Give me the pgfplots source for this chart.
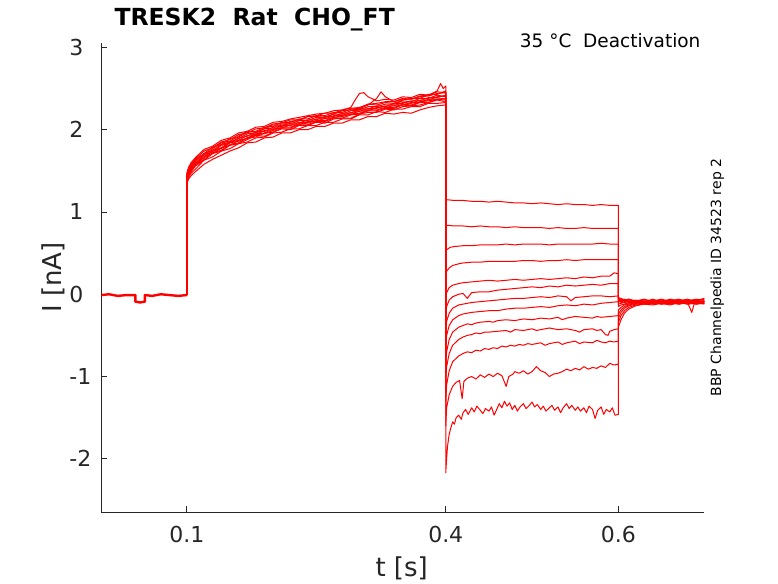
\documentclass[border=0pt]{standalone}
\usepackage{fontspec}
\setmainfont{DejaVu Sans}
\usepackage{pgfplots}
\pgfplotsset{compat=1.18}
\definecolor{axgray}{rgb}{0.15,0.15,0.15}
\pgfplotsset{trace/.style={color=red, line width=1.0pt, mark=none, line join=round}}
\begin{document}
\begin{tikzpicture}
\useasboundingbox (0,0) rectangle (778pt,583pt);
\begin{axis}[
  at={(101.3pt,70.7pt)}, anchor=south west,
  scale only axis, width=603pt, height=469pt,
  xmin=0.001, xmax=0.6995, ymin=-2.65, ymax=3.05,
  axis x line=bottom, axis y line=left,
  axis line style={-, axgray, line width=0.7pt},
  tick align=inside, major tick length=6pt,
  tick style={axgray, line width=0.7pt},
  xtick={0.1,0.4,0.6}, xticklabels={0.1,0.4,0.6},
  ytick={-2,-1,0,1,2,3}, yticklabels={-2,-1,0,1,2,3},
  ticklabel style={font=\fontsize{22}{26}\selectfont, text=axgray, inner sep=0pt},
  xticklabel style={anchor=base, yshift=-30.4pt},
  yticklabel style={anchor=west, xshift=-32pt},
]
% baseline (holding)
\addplot[trace, line width=2.4pt] coordinates {(0.001,-0.01) (0.01,0.0) (0.02,-0.02) (0.03,-0.01) (0.0405,-0.01) (0.0405,-0.09) (0.046,-0.10) (0.0515,-0.09) (0.0515,-0.01) (0.06,-0.02) (0.07,0.0) (0.08,-0.01) (0.09,-0.02) (0.1,-0.01)};
% sweep 1
\addplot[trace] coordinates {(0.1,-0.01) (0.1,1.43) (0.102,1.50) (0.105,1.56) (0.11,1.63) (0.12,1.69) (0.13,1.77) (0.14,1.84) (0.15,1.86) (0.16,1.92) (0.17,1.98) (0.18,1.97) (0.19,2.01) (0.20,2.06) (0.21,2.05) (0.22,2.10) (0.23,2.11) (0.24,2.16) (0.25,2.16) (0.26,2.15) (0.27,2.19) (0.28,2.23) (0.29,2.24) (0.30,2.25) (0.31,2.31) (0.32,2.30) (0.33,2.33) (0.34,2.32) (0.35,2.36) (0.36,2.38) (0.37,2.38) (0.38,2.43) (0.39,2.43) (0.4,2.47)
 (0.4,1.15) (0.41,1.14) (0.42,1.14) (0.43,1.13) (0.44,1.13) (0.45,1.12) (0.46,1.13) (0.47,1.12) (0.48,1.11) (0.49,1.11) (0.50,1.10) (0.51,1.11) (0.52,1.10) (0.53,1.09) (0.54,1.10) (0.55,1.09) (0.56,1.09) (0.57,1.08) (0.58,1.09) (0.59,1.08) (0.6,1.08)
 (0.6,-0.05) (0.603,-0.06) (0.607,-0.08) (0.612,-0.07) (0.62,-0.09) (0.63,-0.07) (0.64,-0.08) (0.65,-0.06) (0.66,-0.09) (0.67,-0.07) (0.68,-0.08) (0.69,-0.06) (0.6995,-0.07)};
% sweep 2
\addplot[trace] coordinates {(0.1,-0.01) (0.1,1.38) (0.102,1.45) (0.105,1.51) (0.11,1.56) (0.12,1.67) (0.13,1.71) (0.14,1.78) (0.15,1.81) (0.16,1.87) (0.17,1.89) (0.18,1.94) (0.19,1.95) (0.20,1.99) (0.21,2.03) (0.22,2.03) (0.23,2.07) (0.24,2.08) (0.25,2.11) (0.26,2.11) (0.27,2.15) (0.28,2.16) (0.29,2.19) (0.30,2.20) (0.31,2.24) (0.32,2.24) (0.33,2.27) (0.34,2.27) (0.35,2.31) (0.36,2.30) (0.37,2.34) (0.38,2.35) (0.39,2.37) (0.4,2.36)
 (0.4,0.84) (0.41,0.83) (0.42,0.83) (0.43,0.82) (0.44,0.83) (0.45,0.82) (0.46,0.82) (0.47,0.81) (0.48,0.82) (0.49,0.81) (0.50,0.81) (0.51,0.81) (0.52,0.80) (0.53,0.81) (0.54,0.80) (0.55,0.80) (0.56,0.81) (0.57,0.80) (0.58,0.80) (0.59,0.80) (0.6,0.80)
 (0.6,-0.06) (0.603,-0.07) (0.607,-0.06) (0.612,-0.09) (0.62,-0.07) (0.63,-0.10) (0.64,-0.07) (0.65,-0.09) (0.66,-0.06) (0.67,-0.08) (0.68,-0.06) (0.69,-0.09) (0.6995,-0.08)};
% sweep 3
\addplot[trace] coordinates {(0.1,-0.01) (0.1,1.46) (0.102,1.53) (0.105,1.58) (0.11,1.65) (0.12,1.74) (0.13,1.78) (0.14,1.85) (0.15,1.88) (0.16,1.94) (0.17,1.96) (0.18,2.01) (0.19,2.02) (0.20,2.07) (0.21,2.08) (0.22,2.12) (0.23,2.12) (0.24,2.16) (0.25,2.17) (0.26,2.20) (0.27,2.20) (0.28,2.24) (0.29,2.26) (0.30,2.27) (0.31,2.31) (0.32,2.32) (0.33,2.34) (0.34,2.34) (0.35,2.38) (0.36,2.37) (0.37,2.41) (0.38,2.42) (0.39,2.47) (0.394,2.56) (0.397,2.50) (0.4,2.53)
 (0.4,0.50) (0.401,0.54) (0.405,0.57) (0.41,0.58) (0.42,0.59) (0.43,0.59) (0.44,0.60) (0.45,0.60) (0.46,0.60) (0.47,0.61) (0.48,0.60) (0.49,0.61) (0.50,0.61) (0.51,0.61) (0.52,0.60) (0.53,0.61) (0.54,0.61) (0.55,0.61) (0.56,0.61) (0.57,0.61) (0.58,0.62) (0.59,0.61) (0.6,0.61)
 (0.6,-0.04) (0.603,-0.05) (0.607,-0.07) (0.612,-0.06) (0.62,-0.08) (0.63,-0.06) (0.64,-0.09) (0.65,-0.07) (0.66,-0.08) (0.67,-0.06) (0.68,-0.09) (0.69,-0.07) (0.6995,-0.06)};
% sweep 4
\addplot[trace] coordinates {(0.1,-0.01) (0.1,1.35) (0.102,1.42) (0.105,1.47) (0.11,1.52) (0.12,1.63) (0.13,1.67) (0.14,1.74) (0.15,1.77) (0.16,1.83) (0.17,1.85) (0.18,1.90) (0.19,1.91) (0.20,1.96) (0.21,1.97) (0.22,2.01) (0.23,2.01) (0.24,2.05) (0.25,2.05) (0.26,2.09) (0.27,2.09) (0.28,2.13) (0.29,2.13) (0.30,2.18) (0.31,2.18) (0.32,2.22) (0.33,2.21) (0.34,2.25) (0.35,2.25) (0.36,2.28) (0.37,2.28) (0.38,2.32) (0.39,2.32) (0.4,2.33)
 (0.4,0.22) (0.401,0.28) (0.404,0.32) (0.408,0.35) (0.415,0.37) (0.42,0.38) (0.43,0.39) (0.44,0.39) (0.45,0.40) (0.46,0.40) (0.47,0.40) (0.48,0.40) (0.49,0.41) (0.50,0.41) (0.51,0.40) (0.52,0.41) (0.53,0.41) (0.54,0.42) (0.55,0.41) (0.56,0.42) (0.57,0.42) (0.58,0.42) (0.59,0.42) (0.6,0.42)
 (0.6,-0.07) (0.603,-0.08) (0.607,-0.07) (0.612,-0.10) (0.62,-0.08) (0.63,-0.09) (0.64,-0.06) (0.65,-0.10) (0.66,-0.08) (0.67,-0.09) (0.68,-0.07) (0.69,-0.08) (0.6995,-0.05)};
% sweep 5
\addplot[trace] coordinates {(0.1,-0.01) (0.1,1.41) (0.102,1.48) (0.105,1.53) (0.11,1.60) (0.12,1.67) (0.13,1.75) (0.14,1.78) (0.15,1.85) (0.16,1.87) (0.17,1.93) (0.18,1.94) (0.19,1.99) (0.20,2.00) (0.21,2.05) (0.22,2.05) (0.23,2.09) (0.24,2.09) (0.25,2.13) (0.26,2.13) (0.27,2.17) (0.28,2.17) (0.29,2.21) (0.30,2.22) (0.31,2.26) (0.32,2.26) (0.33,2.29) (0.34,2.29) (0.35,2.33) (0.36,2.32) (0.37,2.36) (0.38,2.36) (0.39,2.40) (0.4,2.41)
 (0.4,-0.05) (0.401,0.02) (0.404,0.08) (0.408,0.11) (0.415,0.13) (0.42,0.14) (0.43,0.15) (0.44,0.16) (0.45,0.17) (0.46,0.16) (0.47,0.17) (0.48,0.18) (0.49,0.17) (0.50,0.18) (0.51,0.19) (0.52,0.18) (0.53,0.19) (0.54,0.20) (0.55,0.19) (0.56,0.21) (0.57,0.20) (0.58,0.22) (0.59,0.22) (0.595,0.26) (0.6,0.25)
 (0.6,-0.05) (0.603,-0.09) (0.607,-0.08) (0.612,-0.06) (0.62,-0.09) (0.63,-0.08) (0.64,-0.10) (0.65,-0.08) (0.66,-0.07) (0.67,-0.10) (0.68,-0.08) (0.69,-0.10) (0.6995,-0.09)};
% sweep 6
\addplot[trace] coordinates {(0.1,-0.01) (0.1,1.47) (0.102,1.54) (0.105,1.60) (0.11,1.66) (0.12,1.76) (0.13,1.80) (0.14,1.87) (0.15,1.90) (0.16,1.96) (0.17,1.98) (0.18,2.03) (0.19,2.04) (0.20,2.09) (0.21,2.10) (0.22,2.13) (0.23,2.15) (0.24,2.17) (0.25,2.19) (0.26,2.20) (0.27,2.23) (0.28,2.24) (0.29,2.27) (0.295,2.36) (0.30,2.44) (0.305,2.45) (0.31,2.40) (0.32,2.35) (0.33,2.37) (0.34,2.36) (0.35,2.40) (0.36,2.39) (0.37,2.43) (0.38,2.42) (0.39,2.46) (0.4,2.45)
 (0.4,-0.25) (0.401,-0.15) (0.404,-0.07) (0.408,-0.03) (0.415,0.0) (0.42,0.01) (0.425,-0.05) (0.43,0.02) (0.44,0.03) (0.45,0.03) (0.46,0.05) (0.47,0.06) (0.48,0.07) (0.49,0.08) (0.50,0.09) (0.51,0.08) (0.52,0.10) (0.53,0.09) (0.54,0.11) (0.55,0.10) (0.56,0.11) (0.57,0.12) (0.58,0.11) (0.59,0.13) (0.6,0.13)
 (0.6,-0.08) (0.603,-0.10) (0.607,-0.09) (0.612,-0.08) (0.62,-0.10) (0.63,-0.09) (0.64,-0.11) (0.65,-0.08) (0.66,-0.10) (0.67,-0.08) (0.68,-0.11) (0.69,-0.09) (0.6995,-0.08)};
% sweep 7
\addplot[trace] coordinates {(0.1,-0.01) (0.1,1.37) (0.102,1.44) (0.105,1.49) (0.11,1.56) (0.12,1.63) (0.13,1.71) (0.14,1.74) (0.15,1.81) (0.16,1.83) (0.17,1.88) (0.18,1.93) (0.19,1.92) (0.20,1.97) (0.21,2.01) (0.22,2.00) (0.23,2.05) (0.24,2.05) (0.25,2.09) (0.26,2.08) (0.27,2.13) (0.28,2.14) (0.29,2.14) (0.30,2.19) (0.31,2.21) (0.32,2.21) (0.33,2.25) (0.34,2.24) (0.35,2.28) (0.36,2.29) (0.37,2.30) (0.38,2.33) (0.39,2.36) (0.4,2.34)
 (0.4,-0.45) (0.401,-0.33) (0.404,-0.23) (0.408,-0.17) (0.415,-0.13) (0.42,-0.12) (0.43,-0.10) (0.44,-0.09) (0.45,-0.08) (0.46,-0.07) (0.47,-0.06) (0.48,-0.05) (0.49,-0.05) (0.50,-0.04) (0.51,-0.03) (0.52,-0.04) (0.53,-0.02) (0.54,-0.03) (0.545,-0.08) (0.55,-0.04) (0.56,-0.03) (0.57,-0.02) (0.58,-0.02) (0.59,-0.03) (0.6,-0.02)
 (0.6,-0.12) (0.603,-0.11) (0.607,-0.10) (0.612,-0.11) (0.62,-0.09) (0.63,-0.11) (0.64,-0.09) (0.65,-0.11) (0.66,-0.09) (0.67,-0.11) (0.68,-0.09) (0.69,-0.07) (0.6995,-0.09)};
% sweep 8
\addplot[trace] coordinates {(0.1,-0.01) (0.1,1.42) (0.102,1.49) (0.105,1.55) (0.11,1.61) (0.12,1.71) (0.13,1.75) (0.14,1.82) (0.15,1.85) (0.16,1.89) (0.17,1.95) (0.18,1.96) (0.19,2.01) (0.20,2.02) (0.21,2.07) (0.22,2.07) (0.23,2.11) (0.24,2.11) (0.25,2.15) (0.26,2.15) (0.27,2.19) (0.28,2.19) (0.29,2.23) (0.30,2.24) (0.31,2.28) (0.32,2.28) (0.33,2.31) (0.34,2.31) (0.35,2.35) (0.36,2.34) (0.37,2.38) (0.38,2.38) (0.39,2.42) (0.4,2.40)
 (0.4,-0.65) (0.401,-0.50) (0.404,-0.38) (0.408,-0.31) (0.415,-0.26) (0.42,-0.24) (0.43,-0.22) (0.44,-0.21) (0.45,-0.20) (0.46,-0.20) (0.47,-0.18) (0.48,-0.17) (0.49,-0.17) (0.50,-0.16) (0.51,-0.15) (0.52,-0.16) (0.53,-0.14) (0.54,-0.13) (0.55,-0.14) (0.56,-0.12) (0.57,-0.13) (0.58,-0.11) (0.59,-0.10) (0.6,-0.09)
 (0.6,-0.15) (0.603,-0.13) (0.607,-0.12) (0.612,-0.10) (0.62,-0.11) (0.63,-0.09) (0.64,-0.10) (0.65,-0.12) (0.66,-0.10) (0.67,-0.12) (0.68,-0.10) (0.685,-0.22) (0.688,-0.11) (0.69,-0.10) (0.6995,-0.11)};
% sweep 9
\addplot[trace] coordinates {(0.1,-0.01) (0.1,1.33) (0.102,1.40) (0.105,1.44) (0.11,1.49) (0.12,1.58) (0.13,1.64) (0.14,1.69) (0.15,1.74) (0.16,1.78) (0.17,1.84) (0.18,1.85) (0.19,1.90) (0.20,1.91) (0.21,1.96) (0.22,1.96) (0.23,2.00) (0.24,2.00) (0.25,2.04) (0.26,2.04) (0.27,2.08) (0.28,2.08) (0.29,2.12) (0.30,2.12) (0.31,2.16) (0.32,2.16) (0.33,2.20) (0.34,2.19) (0.35,2.21) (0.36,2.20) (0.37,2.24) (0.38,2.27) (0.39,2.29) (0.4,2.30)
 (0.4,-0.85) (0.401,-0.70) (0.404,-0.55) (0.408,-0.46) (0.415,-0.40) (0.42,-0.38) (0.425,-0.36) (0.43,-0.37) (0.435,-0.35) (0.44,-0.34) (0.45,-0.33) (0.455,-0.34) (0.46,-0.32) (0.47,-0.31) (0.48,-0.32) (0.49,-0.30) (0.50,-0.31) (0.51,-0.29) (0.52,-0.30) (0.53,-0.28) (0.535,-0.31) (0.54,-0.29) (0.55,-0.27) (0.56,-0.28) (0.57,-0.29) (0.575,-0.27) (0.58,-0.28) (0.59,-0.27) (0.6,-0.26)
 (0.6,-0.19) (0.603,-0.16) (0.607,-0.13) (0.612,-0.12) (0.62,-0.10) (0.63,-0.12) (0.64,-0.11) (0.65,-0.09) (0.66,-0.11) (0.67,-0.10) (0.68,-0.12) (0.69,-0.11) (0.6995,-0.10)};
% sweep 10
\addplot[trace] coordinates {(0.1,-0.01) (0.1,1.41) (0.102,1.48) (0.105,1.54) (0.11,1.58) (0.12,1.70) (0.13,1.73) (0.14,1.81) (0.15,1.84) (0.16,1.90) (0.17,1.92) (0.18,1.97) (0.19,1.98) (0.20,2.03) (0.21,2.04) (0.22,2.08) (0.23,2.08) (0.24,2.12) (0.25,2.12) (0.26,2.16) (0.27,2.16) (0.28,2.20) (0.29,2.20) (0.30,2.25) (0.31,2.25) (0.32,2.29) (0.33,2.28) (0.34,2.32) (0.35,2.32) (0.36,2.35) (0.37,2.35) (0.38,2.39) (0.39,2.39) (0.4,2.42)
 (0.4,-1.05) (0.401,-0.88) (0.404,-0.72) (0.408,-0.62) (0.415,-0.55) (0.42,-0.52) (0.425,-0.50) (0.43,-0.49) (0.435,-0.47) (0.44,-0.48) (0.445,-0.46) (0.45,-0.46) (0.46,-0.45) (0.47,-0.44) (0.475,-0.46) (0.48,-0.43) (0.49,-0.44) (0.50,-0.42) (0.505,-0.44) (0.51,-0.43) (0.52,-0.41) (0.53,-0.43) (0.54,-0.42) (0.55,-0.44) (0.555,-0.46) (0.56,-0.43) (0.57,-0.42) (0.575,-0.44) (0.58,-0.43) (0.585,-0.49) (0.588,-0.50) (0.59,-0.45) (0.595,-0.43) (0.6,-0.42)
 (0.6,-0.24) (0.603,-0.19) (0.607,-0.15) (0.612,-0.13) (0.62,-0.11) (0.63,-0.10) (0.64,-0.12) (0.65,-0.10) (0.66,-0.12) (0.67,-0.11) (0.68,-0.09) (0.69,-0.12) (0.6995,-0.10)};
% sweep 11
\addplot[trace] coordinates {(0.1,-0.01) (0.1,1.39) (0.102,1.46) (0.105,1.52) (0.11,1.59) (0.12,1.66) (0.13,1.74) (0.14,1.77) (0.15,1.84) (0.16,1.86) (0.17,1.90) (0.18,1.95) (0.19,1.96) (0.20,2.01) (0.21,2.02) (0.22,2.06) (0.23,2.06) (0.24,2.10) (0.25,2.10) (0.26,2.14) (0.27,2.14) (0.28,2.18) (0.29,2.18) (0.30,2.23) (0.31,2.23) (0.32,2.27) (0.33,2.26) (0.34,2.30) (0.35,2.30) (0.36,2.33) (0.37,2.33) (0.38,2.37) (0.39,2.37) (0.4,2.38)
 (0.4,-1.30) (0.401,-1.10) (0.404,-0.93) (0.408,-0.82) (0.415,-0.75) (0.42,-0.72) (0.425,-0.70) (0.43,-0.71) (0.435,-0.68) (0.44,-0.69) (0.445,-0.66) (0.45,-0.67) (0.455,-0.65) (0.46,-0.66) (0.465,-0.63) (0.47,-0.64) (0.475,-0.62) (0.48,-0.63) (0.485,-0.61) (0.49,-0.62) (0.495,-0.60) (0.50,-0.61) (0.51,-0.59) (0.515,-0.62) (0.52,-0.60) (0.53,-0.58) (0.535,-0.61) (0.54,-0.59) (0.55,-0.57) (0.555,-0.60) (0.56,-0.58) (0.57,-0.59) (0.575,-0.56) (0.58,-0.58) (0.585,-0.59) (0.59,-0.57) (0.595,-0.58) (0.6,-0.57)
 (0.6,-0.29) (0.603,-0.22) (0.607,-0.17) (0.612,-0.14) (0.62,-0.12) (0.63,-0.11) (0.64,-0.09) (0.65,-0.11) (0.66,-0.13) (0.67,-0.10) (0.68,-0.11) (0.69,-0.08) (0.6995,-0.09)};
% sweep 12
\addplot[trace] coordinates {(0.1,-0.01) (0.1,1.44) (0.102,1.51) (0.105,1.57) (0.11,1.64) (0.12,1.71) (0.13,1.79) (0.14,1.82) (0.15,1.89) (0.16,1.91) (0.17,1.97) (0.18,1.98) (0.19,2.03) (0.20,2.04) (0.21,2.09) (0.22,2.09) (0.23,2.13) (0.24,2.13) (0.25,2.17) (0.26,2.17) (0.27,2.21) (0.28,2.21) (0.29,2.25) (0.30,2.26) (0.31,2.30) (0.32,2.38) (0.325,2.46) (0.33,2.40) (0.34,2.34) (0.35,2.37) (0.36,2.37) (0.37,2.40) (0.38,2.41) (0.39,2.44) (0.4,2.45)
 (0.4,-1.60) (0.401,-1.38) (0.404,-1.22) (0.408,-1.12) (0.412,-1.07) (0.416,-1.05) (0.419,-1.27) (0.421,-1.06) (0.425,-1.02) (0.43,-1.00) (0.435,-1.03) (0.44,-0.98) (0.445,-1.01) (0.45,-0.97) (0.455,-1.00) (0.46,-0.96) (0.465,-0.99) (0.47,-1.12) (0.473,-1.00) (0.478,-0.97) (0.48,-0.94) (0.485,-0.96) (0.49,-0.93) (0.495,-0.97) (0.50,-0.94) (0.505,-0.88) (0.51,-0.93) (0.515,-0.95) (0.52,-1.00) (0.525,-0.97) (0.53,-0.96) (0.535,-0.94) (0.54,-0.91) (0.545,-0.93) (0.55,-0.90) (0.555,-0.92) (0.56,-0.88) (0.565,-0.91) (0.57,-0.89) (0.575,-0.90) (0.58,-0.87) (0.585,-0.89) (0.59,-0.84) (0.595,-0.86) (0.6,-0.85)
 (0.6,-0.34) (0.603,-0.26) (0.607,-0.20) (0.612,-0.16) (0.62,-0.13) (0.63,-0.12) (0.64,-0.13) (0.65,-0.11) (0.66,-0.10) (0.67,-0.12) (0.68,-0.10) (0.69,-0.12) (0.6995,-0.11)};
% sweep 13
\addplot[trace] coordinates {(0.1,-0.01) (0.1,1.38) (0.102,1.45) (0.105,1.50) (0.11,1.57) (0.12,1.64) (0.13,1.72) (0.14,1.75) (0.15,1.82) (0.16,1.84) (0.17,1.90) (0.18,1.91) (0.19,1.96) (0.20,1.97) (0.21,2.02) (0.22,2.02) (0.23,2.06) (0.24,2.06) (0.25,2.10) (0.26,2.10) (0.27,2.14) (0.28,2.14) (0.29,2.18) (0.30,2.19) (0.31,2.23) (0.32,2.23) (0.33,2.26) (0.34,2.26) (0.35,2.30) (0.36,2.29) (0.37,2.33) (0.38,2.33) (0.39,2.37) (0.4,2.38)
 (0.4,-2.17) (0.401,-2.00) (0.402,-1.85) (0.404,-1.70) (0.406,-1.62) (0.408,-1.55) (0.41,-1.58) (0.412,-1.50) (0.415,-1.47) (0.418,-1.52) (0.42,-1.44) (0.423,-1.40) (0.426,-1.46) (0.43,-1.38) (0.433,-1.43) (0.436,-1.36) (0.44,-1.41) (0.443,-1.45) (0.446,-1.39) (0.45,-1.42) (0.453,-1.37) (0.456,-1.47) (0.459,-1.40) (0.462,-1.33) (0.465,-1.38) (0.468,-1.30) (0.471,-1.36) (0.474,-1.32) (0.477,-1.40) (0.48,-1.35) (0.483,-1.42) (0.486,-1.37) (0.49,-1.33) (0.493,-1.39) (0.496,-1.36) (0.5,-1.31) (0.503,-1.37) (0.506,-1.34) (0.51,-1.40) (0.513,-1.36) (0.516,-1.42) (0.52,-1.38) (0.523,-1.35) (0.526,-1.41) (0.53,-1.37) (0.533,-1.44) (0.536,-1.38) (0.54,-1.33) (0.543,-1.39) (0.546,-1.35) (0.55,-1.41) (0.553,-1.37) (0.556,-1.42) (0.56,-1.38) (0.563,-1.44) (0.566,-1.36) (0.57,-1.40) (0.573,-1.51) (0.576,-1.41) (0.58,-1.37) (0.583,-1.46) (0.586,-1.40) (0.59,-1.43) (0.593,-1.38) (0.596,-1.47) (0.6,-1.46)
 (0.6,-0.40) (0.603,-0.31) (0.607,-0.23) (0.612,-0.18) (0.62,-0.14) (0.63,-0.12) (0.64,-0.10) (0.65,-0.12) (0.66,-0.11) (0.67,-0.09) (0.68,-0.12) (0.69,-0.10) (0.6995,-0.12)};
\end{axis}
\node[anchor=base west, font=\fontsize{23.5}{28}\selectfont\bfseries] at (111pt,557pt) {TRESK2~~Rat~~CHO\_FT};
\node[anchor=base east, font=\fontsize{18.5}{22}\selectfont] at (704pt,535.7pt) {35 °C~~Deactivation};
\node[rotate=90, anchor=base, font=\fontsize{14}{16}\selectfont] at (721pt,305.5pt) {BBP Channelpedia ID 34523 rep 2};
\node[anchor=base, font=\fontsize{26}{30}\selectfont, text=axgray] at (401.7pt,6.5pt) {t [s]};
\node[rotate=90, anchor=base, font=\fontsize{26}{30}\selectfont, text=axgray] at (61pt,305.5pt) {I [nA]};
\end{tikzpicture}
\end{document}
